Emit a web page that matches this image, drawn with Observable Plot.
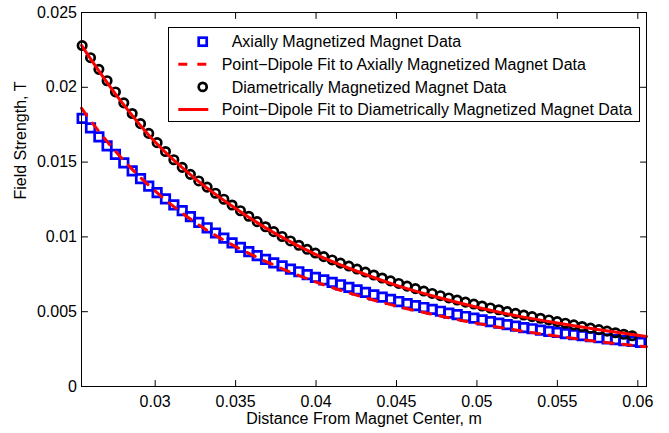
<!DOCTYPE html>
<html>
<head>
<meta charset="utf-8">
<script src="https://cdn.jsdelivr.net/npm/d3@7"></script>
<script src="https://cdn.jsdelivr.net/npm/@observablehq/plot@0.6"></script>
<style>
  html, body { margin: 0; padding: 0; background: white; }
  #chart { position: relative; width: 669px; height: 433px; }
</style>
</head>
<body>
<div id="chart"></div>
<script>
// Distance from magnet center (m) for the measured points
const distance = [0.02546, 0.02598, 0.02650, 0.02701, 0.02753, 0.02805, 0.02857, 0.02909, 0.02960, 0.03012,
  0.03064, 0.03116, 0.03168, 0.03219, 0.03271, 0.03323, 0.03375, 0.03427, 0.03478, 0.03530,
  0.03582, 0.03634, 0.03686, 0.03737, 0.03789, 0.03841, 0.03893, 0.03945, 0.03996, 0.04048,
  0.04100, 0.04152, 0.04204, 0.04255, 0.04307, 0.04359, 0.04411, 0.04463, 0.04514, 0.04566,
  0.04618, 0.04670, 0.04722, 0.04773, 0.04825, 0.04877, 0.04929, 0.04981, 0.05032, 0.05084,
  0.05136, 0.05188, 0.05240, 0.05291, 0.05343, 0.05395, 0.05447, 0.05499, 0.05550, 0.05602,
  0.05654, 0.05706, 0.05758, 0.05809, 0.05861, 0.05913, 0.05965, 0.06017];

// Axially magnetized magnet data (T)
const axialField = [0.01792, 0.01729, 0.01668, 0.01609, 0.01551, 0.01495, 0.01441, 0.01389, 0.01340, 0.01296,
  0.01254, 0.01214, 0.01176, 0.01135, 0.01097, 0.01061, 0.01026, 0.00992, 0.00960, 0.00930,
  0.00901, 0.00875, 0.00850, 0.00827, 0.00806, 0.00785, 0.00767, 0.00748, 0.00730, 0.00713,
  0.00696, 0.00680, 0.00663, 0.00646, 0.00629, 0.00613, 0.00597, 0.00582, 0.00568, 0.00554,
  0.00541, 0.00528, 0.00515, 0.00503, 0.00491, 0.00480, 0.00468, 0.00457, 0.00445, 0.00434,
  0.00424, 0.00413, 0.00403, 0.00394, 0.00386, 0.00377, 0.00369, 0.00362, 0.00354, 0.00347,
  0.00340, 0.00333, 0.00326, 0.00319, 0.00313, 0.00307, 0.00301, 0.00295];

// Diametrically magnetized magnet data (T)
const diametricField = [0.02279, 0.02198, 0.02120, 0.02044, 0.01969, 0.01896, 0.01825, 0.01757, 0.01692, 0.01630,
  0.01571, 0.01516, 0.01465, 0.01418, 0.01374, 0.01333, 0.01292, 0.01252, 0.01213, 0.01175,
  0.01138, 0.01102, 0.01068, 0.01035, 0.01003, 0.00973, 0.00944, 0.00917, 0.00892, 0.00868,
  0.00846, 0.00825, 0.00805, 0.00785, 0.00765, 0.00745, 0.00725, 0.00706, 0.00689, 0.00671,
  0.00654, 0.00638, 0.00622, 0.00607, 0.00592, 0.00578, 0.00564, 0.00551, 0.00538, 0.00525,
  0.00513, 0.00501, 0.00489, 0.00478, 0.00467, 0.00456, 0.00445, 0.00434, 0.00423, 0.00412,
  0.00401, 0.00390, 0.00380, 0.00370, 0.00359, 0.00349, 0.00339];

// Point-dipole fit to axially magnetized data
const axialFitDistance = [0.02542, 0.0265, 0.0275, 0.0285, 0.0295, 0.031, 0.033, 0.035, 0.0375, 0.04,
  0.0425, 0.045, 0.0475, 0.05, 0.0525, 0.055, 0.0575, 0.06054];
const axialFitField = [0.0186, 0.01705, 0.01576, 0.0146, 0.01355, 0.01216, 0.0106, 0.00935, 0.00806, 0.00698,
  0.00611, 0.00537, 0.00476, 0.00422, 0.00376, 0.00336, 0.00301, 0.00266];

// Point-dipole fit to diametrically magnetized data
const diametricFitDistance = [0.02542, 0.0275, 0.03, 0.0325, 0.035, 0.0375, 0.04, 0.0425, 0.045, 0.0475,
  0.05, 0.0525, 0.055, 0.0575, 0.06054];
const diametricFitField = [0.0228, 0.0196, 0.01634, 0.01388, 0.0119, 0.0102, 0.00882, 0.00772, 0.00676, 0.00598,
  0.0053, 0.00472, 0.00424, 0.00381, 0.00334];

const xTicks = [0.03, 0.035, 0.04, 0.045, 0.05, 0.055, 0.06];
const yTicks = [0, 0.005, 0.01, 0.015, 0.02, 0.025];
const xDomain = [0.02542, 0.06054];
const yDomain = [0, 0.025];

const legendLabels = [
  "Axially Magnetized Magnet Data",
  "Point\u2212Dipole Fit to Axially Magnetized Magnet Data",
  "Diametrically Magnetized Magnet Data",
  "Point\u2212Dipole Fit to Diametrically Magnetized Magnet Data"
];
const xLabel = "Distance From Magnet Center, m";
const yLabel = "Field Strength, T";

const axialData = axialField.map((v, i) => ({x: distance[i], y: v}));
const diametricData = diametricField.map((v, i) => ({x: distance[i], y: v}));
const axialFit = axialFitField.map((v, i) => ({x: axialFitDistance[i], y: v}));
const diametricFit = diametricFitField.map((v, i) => ({x: diametricFitDistance[i], y: v}));

const tickShape = {draw(context, l) { context.moveTo(0, 0); context.lineTo(0, -l); }};
const tickOpts = {length: 6, anchor: "start", shape: tickShape, stroke: "black", strokeWidth: 1};

const FONT = "'Liberation Sans', Arial, Helvetica, sans-serif";

const chart = Plot.plot({
  width: 669,
  height: 433,
  marginLeft: 81,
  marginRight: 23,
  marginTop: 12,
  marginBottom: 47,
  x: {domain: xDomain},
  y: {domain: yDomain},
  style: {fontFamily: FONT, fontSize: "16px", background: "white", color: "black", overflow: "visible"},
  marks: [
    Plot.dot(axialData, {x: "x", y: "y", symbol: "square", r: 4.8, stroke: "#0000ff", strokeWidth: 2.7, fill: "none"}),
    Plot.line(axialFit, {x: "x", y: "y", stroke: "#ff0000", strokeWidth: 3, strokeDasharray: "9,9.5", curve: "catmull-rom"}),
    Plot.dot(diametricData, {x: "x", y: "y", symbol: "circle", r: 4.2, stroke: "#000000", strokeWidth: 2.7, fill: "none"}),
    Plot.line(diametricFit, {x: "x", y: "y", stroke: "#ff0000", strokeWidth: 3, curve: "catmull-rom"}),
    Plot.frame({stroke: "black", strokeWidth: 1}),
    Plot.vector(xTicks, {x: d => d, frameAnchor: "bottom", rotate: 0, ...tickOpts}),
    Plot.vector(xTicks, {x: d => d, frameAnchor: "top", rotate: 180, ...tickOpts}),
    Plot.vector(yTicks, {y: d => d, frameAnchor: "left", rotate: 90, ...tickOpts}),
    Plot.vector(yTicks, {y: d => d, frameAnchor: "right", rotate: 270, ...tickOpts}),
    Plot.axisX({ticks: xTicks, tickSize: 0, tickPadding: 9, label: null, tickFormat: d => String(d), fontSize: 16}),
    Plot.axisY({ticks: yTicks, tickSize: 0, tickPadding: 4.5, label: null, tickFormat: d => String(d), fontSize: 16}),
    Plot.text([xLabel], {frameAnchor: "bottom", dy: 37, text: d => d, fontSize: 16}),
    Plot.text([yLabel], {frameAnchor: "left", rotate: -90, dx: -60.5, text: d => d, fontSize: 16})
  ]
});

document.getElementById("chart").appendChild(chart);

// Legend box drawn inside the plot's SVG
const g = d3.select(chart).append("g")
  .attr("font-family", FONT).attr("font-size", 16).attr("text-anchor", "start");
g.append("rect").attr("x", 168.5).attr("y", 27.5).attr("width", 471).attr("height", 94)
  .attr("fill", "white").attr("stroke", "black").attr("stroke-width", 1);
const rowY = [41.7, 64.3, 86.9, 109.5];
const textX = [231.7, 221.7, 231.7, 221.7];
// row 1: blue square
g.append("rect").attr("x", 202.7 - 4).attr("y", rowY[0] - 4).attr("width", 8).attr("height", 8)
  .attr("fill", "none").attr("stroke", "#0000ff").attr("stroke-width", 2.7);
// row 2: dashed red
g.append("line").attr("x1", 178.3).attr("x2", 207).attr("y1", rowY[1]).attr("y2", rowY[1])
  .attr("stroke", "#ff0000").attr("stroke-width", 3).attr("stroke-dasharray", "9,10");
// row 3: black circle
g.append("circle").attr("cx", 202.7).attr("cy", rowY[2]).attr("r", 4)
  .attr("fill", "none").attr("stroke", "black").attr("stroke-width", 2.7);
// row 4: solid red
g.append("line").attr("x1", 178.3).attr("x2", 208.3).attr("y1", rowY[3]).attr("y2", rowY[3])
  .attr("stroke", "#ff0000").attr("stroke-width", 3);
legendLabels.forEach((label, i) => {
  g.append("text").attr("x", textX[i]).attr("y", rowY[i]).attr("dy", "0.35em")
    .attr("text-anchor", "start").attr("fill", "black").text(label);
});
</script>
</body>
</html>
